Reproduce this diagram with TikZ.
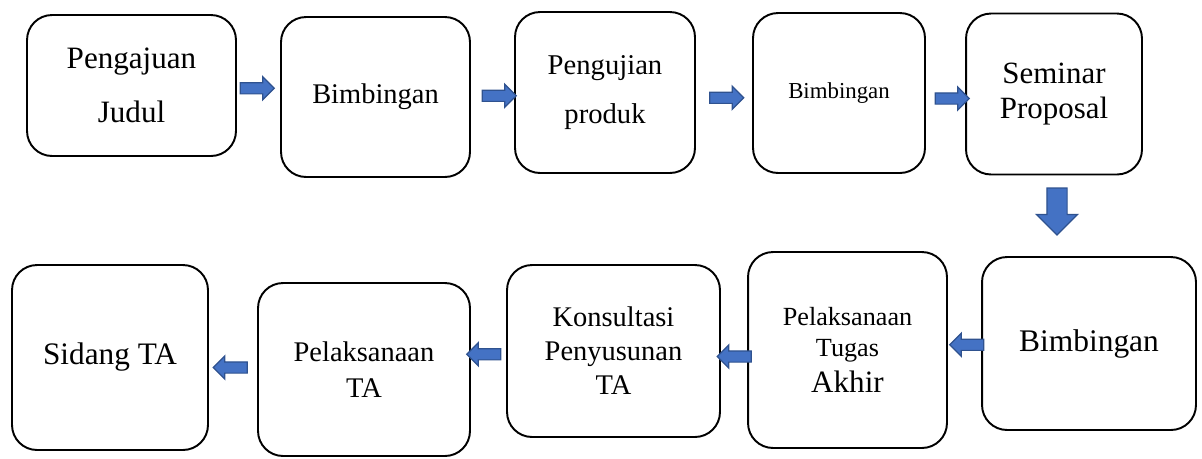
\documentclass[tikz,border=0pt]{standalone}
\usepackage{fontspec}
\setmainfont{Liberation Serif}
\usetikzlibrary{shapes.arrows,calc}
\definecolor{panahisi}{HTML}{4472C4}
\definecolor{panahgaris}{HTML}{2F528F}
\tikzset{
  kotak/.style={draw, line width=1.1pt, rounded corners=0.5cm, align=center, inner sep=2pt},
  panah/.style={single arrow, draw=panahgaris, fill=panahisi, line width=0.7pt,
    inner xsep=0pt, inner ysep=0.1cm, minimum height=0.68cm,
    single arrow head extend=0.12cm, single arrow tip angle=90},
  panahbawah/.style={panah, inner ysep=0.19cm, minimum height=0.94cm,
    single arrow head extend=0.21cm, rotate=-90}
}
\begin{document}
\begin{tikzpicture}[x=0.02cm,y=-0.02cm]
  \useasboundingbox (0,0) rectangle (1202,458);
  % baris atas
  \node[kotak, minimum width=4.18cm, minimum height=2.82cm, font=\fontsize{17.7}{30.6}\selectfont] (judul) at (131.5,85.5) {Pengajuan\\Judul};
  \node[kotak, minimum width=3.78cm, minimum height=3.2cm, font=\fontsize{16.2}{19}\selectfont] (bimb1) at (375.5,97) {Bimbingan};
  \node[kotak, minimum width=3.6cm, minimum height=3.22cm, font=\fontsize{16.3}{28}\selectfont] (uji) at (605,92.5) {Pengujian\\produk};
  \node[kotak, minimum width=3.44cm, minimum height=3.2cm, font=\fontsize{13}{15}\selectfont] (bimb2) at (839,93) {Bimbingan};
  \node[kotak, minimum width=3.52cm, minimum height=3.22cm, font=\fontsize{17.6}{20.4}\selectfont] (sem) at (1054,94) {Seminar\\Proposal};
  % baris bawah
  \node[kotak, minimum width=4.28cm, minimum height=3.46cm, font=\fontsize{17.9}{21}\selectfont] (bimb3) at (1089,343.5) {Bimbingan};
  \node[kotak, minimum width=3.98cm, minimum height=3.92cm, font=\fontsize{14.9}{17.6}\selectfont] (aksi) at (847.5,350) {Pelaksanaan\\Tugas\\[3pt]{\fontsize{17.7}{20}\selectfont Akhir}};
  \node[kotak, minimum width=4.26cm, minimum height=3.44cm, font=\fontsize{16.2}{19.4}\selectfont] (kons) at (613.5,351) {Konsultasi\\Penyusunan\\TA};
  \node[kotak, minimum width=4.24cm, minimum height=3.46cm, font=\fontsize{16.2}{20.5}\selectfont] (pelta) at (364,369.5) {Pelaksanaan\\TA};
  \node[kotak, minimum width=3.92cm, minimum height=3.7cm, font=\fontsize{17.8}{21}\selectfont] (sidang) at (110,357.5) {Sidang TA};
  % panah
  \node[panah] (p1) at ($(judul.east)!0.5!(bimb1.west)+(-4,-3)$) {};
  \node[panah] (p2) at ($(bimb1.east)!0.5!(uji.west)+(4,1)$) {};
  \node[panah] (p3) at ($(uji.east)!0.5!(bimb2.west)+(0,5)$) {};
  \node[panah] (p4) at ($(bimb2.east)!0.5!(sem.west)+(4,5)$) {};
  \node[panahbawah] (p5) at ($(sem.south)+(3,31)$) {};
  \node[panah, rotate=180] (p6) at ($(bimb3.west)!0.5!(aksi.east)+(5,-2)$) {};
  \node[panah, rotate=180] (p7) at ($(aksi.west)!0.5!(kons.east)+(3,6)$) {};
  \node[panah, rotate=180] (p8) at ($(kons.west)!0.5!(pelta.east)+(-2,-6)$) {};
  \node[panah, rotate=180] (p9) at ($(pelta.west)!0.5!(sidang.east)+(0,4)$) {};
\end{tikzpicture}
\end{document}
